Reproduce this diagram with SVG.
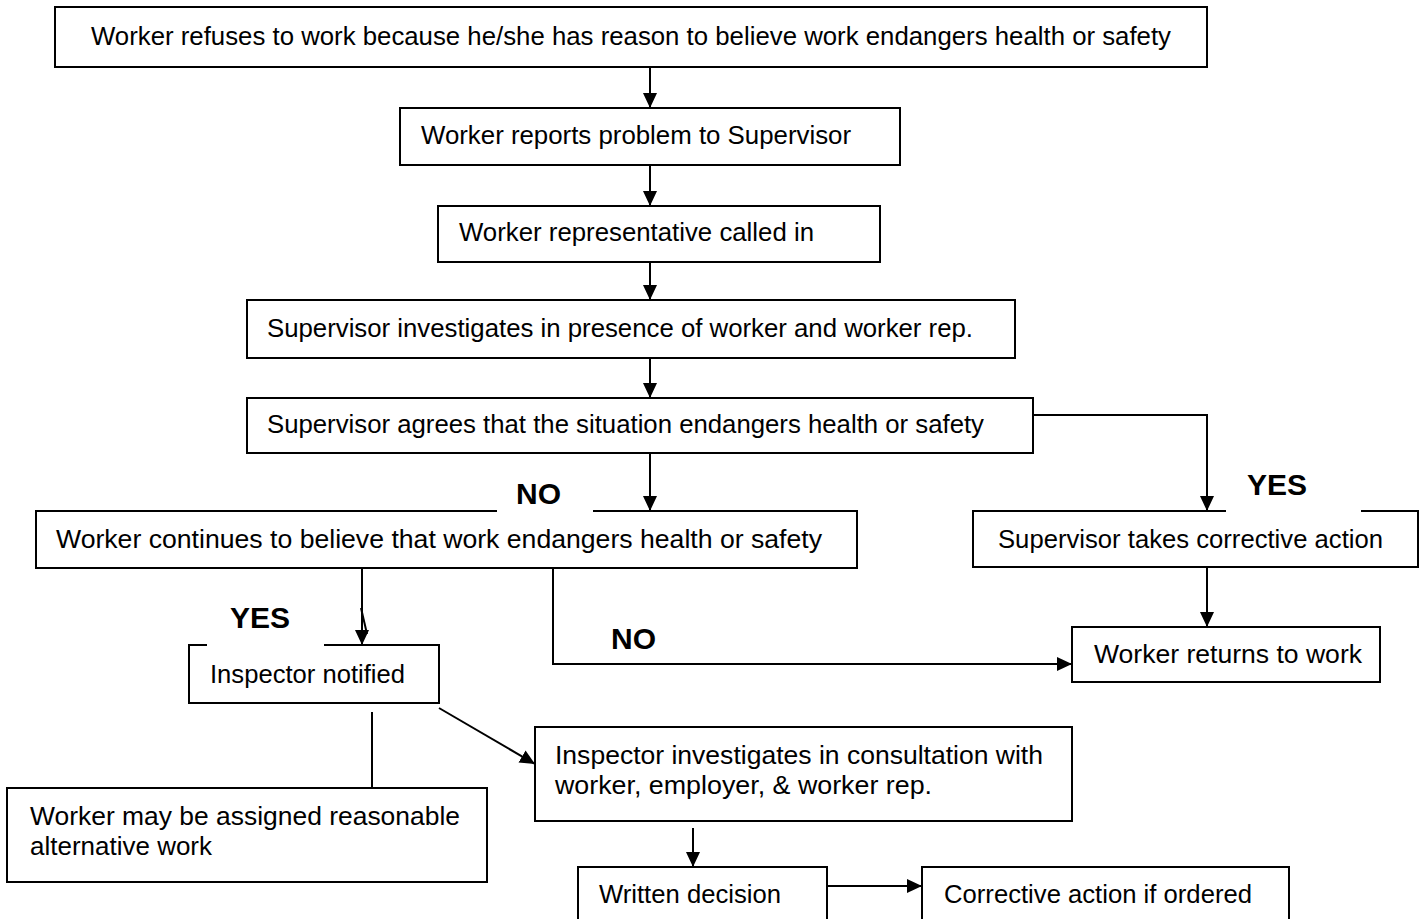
<svg xmlns="http://www.w3.org/2000/svg" width="1421" height="919" viewBox="0 0 1421 919">
<style>
.box{fill:#fff;stroke:#000;stroke-width:2}
.t{font-family:"Liberation Sans",Arial,sans-serif;font-size:26.5px;fill:#000}
.lbl{font-family:"Liberation Sans",Arial,sans-serif;font-size:30px;font-weight:bold;fill:#000}
.c{fill:none;stroke:#000;stroke-width:2}
.mask{fill:#fff;stroke:none}
</style>
<defs>
<marker id="ah" markerUnits="userSpaceOnUse" markerWidth="16" markerHeight="16" refX="15" refY="7" orient="auto">
<path d="M0,0 L15,7 L0,14 z" fill="#000"/>
</marker>
</defs>
<rect width="1421" height="919" fill="#fff"/>
<g id="connectors">
<line class="c" x1="650" y1="67" x2="650" y2="108" marker-end="url(#ah)"/>
<line class="c" x1="650" y1="165" x2="650" y2="206" marker-end="url(#ah)"/>
<line class="c" x1="650" y1="262" x2="650" y2="300" marker-end="url(#ah)"/>
<line class="c" x1="650" y1="358" x2="650" y2="398" marker-end="url(#ah)"/>
<line class="c" x1="650" y1="453" x2="650" y2="511" marker-end="url(#ah)"/>
<polyline class="c" points="1033,415 1207,415 1207,511" marker-end="url(#ah)"/>
<line class="c" x1="1207" y1="568" x2="1207" y2="627" marker-end="url(#ah)"/>
<polyline class="c" points="553,569 553,664 1072,664" marker-end="url(#ah)"/>
<line class="c" x1="362" y1="569" x2="362" y2="645" marker-end="url(#ah)"/>
<line class="c" x1="361" y1="608" x2="367" y2="634"/>
<line class="c" x1="372" y1="712" x2="372" y2="788"/>
<line class="c" x1="439" y1="708" x2="535" y2="764" marker-end="url(#ah)"/>
<line class="c" x1="693" y1="828" x2="693" y2="867" marker-end="url(#ah)"/>
<line class="c" x1="827" y1="886" x2="922" y2="886" marker-end="url(#ah)"/>
</g>
<g id="n1"><rect class="box" x="55" y="7" width="1152" height="60"/><text class="t" x="91" y="45" textLength="1080" lengthAdjust="spacingAndGlyphs">Worker refuses to work because he/she has reason to believe work endangers health or safety</text></g>
<g id="n2"><rect class="box" x="400" y="108" width="500" height="57"/><text class="t" x="421" y="144" textLength="430" lengthAdjust="spacingAndGlyphs">Worker reports problem to Supervisor</text></g>
<g id="n3"><rect class="box" x="438" y="206" width="442" height="56"/><text class="t" x="459" y="241" textLength="355" lengthAdjust="spacingAndGlyphs">Worker representative called in</text></g>
<g id="n4"><rect class="box" x="247" y="300" width="768" height="58"/><text class="t" x="267" y="337" textLength="706" lengthAdjust="spacingAndGlyphs">Supervisor investigates in presence of worker and worker rep.</text></g>
<g id="n5"><rect class="box" x="247" y="398" width="786" height="55"/><text class="t" x="267" y="433" textLength="717" lengthAdjust="spacingAndGlyphs">Supervisor agrees that the situation endangers health or safety</text></g>
<g id="n6"><rect class="box" x="36" y="511" width="821" height="57"/><text class="t" x="56" y="548" textLength="766" lengthAdjust="spacingAndGlyphs">Worker continues to believe that work endangers health or safety</text></g>
<g id="n7"><rect class="box" x="973" y="511" width="445" height="56"/><text class="t" x="998" y="548" textLength="385" lengthAdjust="spacingAndGlyphs">Supervisor takes corrective action</text></g>
<g id="n8"><rect class="box" x="1072" y="627" width="308" height="55"/><text class="t" x="1094" y="663" textLength="268" lengthAdjust="spacingAndGlyphs">Worker returns to work</text></g>
<g id="n9"><rect class="box" x="189" y="645" width="250" height="58"/><text class="t" x="210" y="683" textLength="195" lengthAdjust="spacingAndGlyphs">Inspector notified</text></g>
<g id="n10"><rect class="box" x="7" y="788" width="480" height="94"/><text class="t" x="30" y="825" textLength="430" lengthAdjust="spacingAndGlyphs">Worker may be assigned reasonable</text><text class="t" x="30" y="855" textLength="182" lengthAdjust="spacingAndGlyphs">alternative work</text></g>
<g id="n11"><rect class="box" x="535" y="727" width="537" height="94"/><text class="t" x="555" y="764" textLength="488" lengthAdjust="spacingAndGlyphs">Inspector investigates in consultation with</text><text class="t" x="555" y="794" textLength="377" lengthAdjust="spacingAndGlyphs">worker, employer, &amp; worker rep.</text></g>
<g id="n12"><rect class="box" x="578" y="867" width="249" height="60"/><text class="t" x="599" y="903" textLength="182" lengthAdjust="spacingAndGlyphs">Written decision</text></g>
<g id="n13"><rect class="box" x="922" y="867" width="367" height="60"/><text class="t" x="944" y="903" textLength="308" lengthAdjust="spacingAndGlyphs">Corrective action if ordered</text></g>
<g id="labels">
<rect class="mask" x="497" y="470" width="96" height="43"/>
<text class="lbl" x="516" y="504">NO</text>
<rect class="mask" x="1226" y="462" width="135" height="51"/>
<text class="lbl" x="1247" y="495">YES</text>
<rect class="mask" x="207" y="600" width="117" height="47"/>
<text class="lbl" x="230" y="628">YES</text>
<text class="lbl" x="611" y="649">NO</text>
</g>
</svg>
